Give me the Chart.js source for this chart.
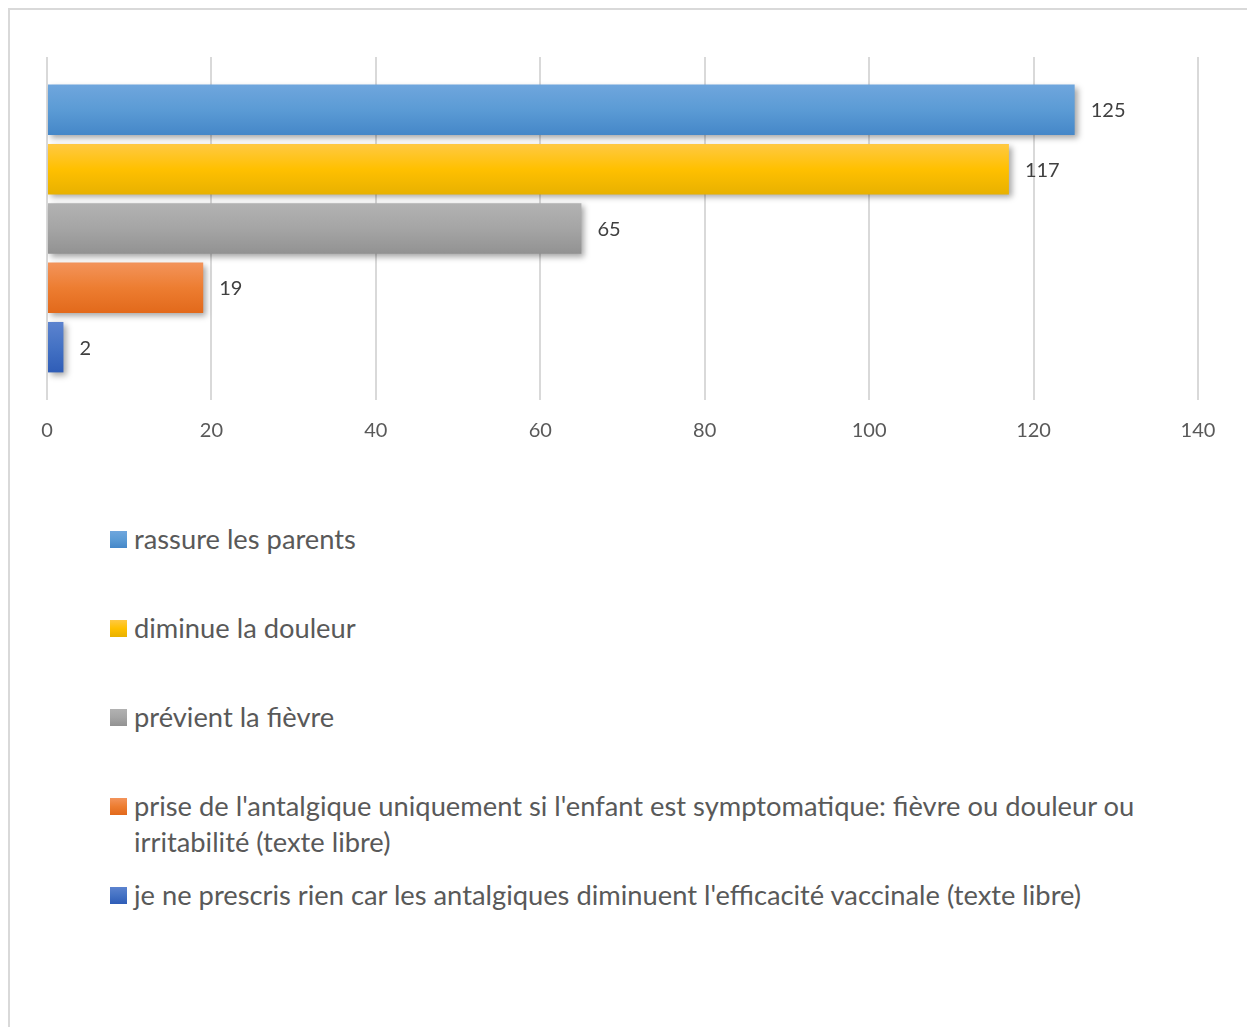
<!DOCTYPE html>
<html>
<head>
<meta charset="utf-8">
<script src="https://cdn.jsdelivr.net/npm/chart.js@4.4.0/dist/chart.umd.min.js"></script>
<style>
  body { margin: 0; background: #fff; font-family: Lato, sans-serif; }
  #frame { position: absolute; left: 8px; top: 8px; width: 1300px; height: 1100px; border: 2px solid #d9d9d9; box-sizing: border-box; }
  #chart { position: absolute; left: 0; top: 0; }
  #legend { position: absolute; left: 110px; top: 521px; width: 1060px; }
  .item { display: flex; align-items: flex-start; min-height: 89px; font-size: 27.3px; line-height: 36px; color: #595959; }
  .box { flex: 0 0 17px; height: 17px; margin-top: 10px; margin-right: 7px; }
</style>
</head>
<body>
<div id="frame"></div>
<canvas id="chart" width="1247" height="470"></canvas>
<div id="legend"></div>
<script>
const categories = ["Réponses"];
const seriesLabels = [
  "rassure les parents",
  "diminue la douleur",
  "prévient la fièvre",
  "prise de l'antalgique uniquement si l'enfant est symptomatique: fièvre ou douleur ou irritabilité (texte libre)",
  "je ne prescris rien car les antalgiques diminuent l'efficacité vaccinale (texte libre)"
];
const seriesValues = [125, 117, 65, 19, 2];
const xMax = 140;
const xStep = 20;

// top / middle / bottom shades of each bar
const colorTop = ["#6fa6dd", "#ffc943", "#b2b2b2", "#f3945b", "#5c83cf"];
const colorMid = ["#5b9bd5", "#ffc000", "#a5a5a5", "#ed7d31", "#4472c4"];
const colorBottom = ["#4587c8", "#e8b100", "#929292", "#e2691b", "#2f5db7"];

function barFill(i) {
  return (c) => {
    const el = c.chart.getDatasetMeta(c.datasetIndex).data[c.dataIndex];
    if (!el || !el.height) return colorMid[i];
    const top = el.y - el.height / 2;
    const g = c.chart.ctx.createLinearGradient(0, top, 0, top + el.height);
    g.addColorStop(0, colorTop[i]);
    g.addColorStop(0.5, colorMid[i]);
    g.addColorStop(1, colorBottom[i]);
    return g;
  };
}

const shadowAndLabels = {
  id: "shadowAndLabels",
  beforeDatasetsDraw(chart) {
    const ctx = chart.ctx;
    ctx.save();
    ctx.shadowColor = "rgba(0,0,0,0.35)";
    ctx.shadowBlur = 6;
    ctx.shadowOffsetX = 3;
    ctx.shadowOffsetY = 3;
  },
  afterDatasetsDraw(chart) {
    const ctx = chart.ctx;
    ctx.restore();
    ctx.save();
    ctx.font = "20px Lato";
    ctx.fillStyle = "#404040";
    ctx.textAlign = "left";
    ctx.textBaseline = "middle";
    chart.data.datasets.forEach((ds, i) => {
      const el = chart.getDatasetMeta(i).data[0];
      ctx.fillText(String(ds.data[0]), el.x + 16, el.y + 1);
    });
    ctx.restore();
  }
};

const chart = new Chart(document.getElementById("chart"), {
  type: "bar",
  data: {
    labels: categories,
    datasets: seriesLabels.map((label, i) => ({
      label: label,
      data: [seriesValues[i]],
      backgroundColor: barFill(i),
      borderWidth: 0,
      categoryPercentage: 0.865,
      barPercentage: 0.85
    }))
  },
  options: {
    indexAxis: "y",
    responsive: false,
    animation: false,
    layout: { padding: { top: 57, left: 47, right: 49, bottom: 8 } },
    plugins: {
      legend: { display: false },
      tooltip: { enabled: false }
    },
    scales: {
      x: {
        min: 0,
        max: xMax,
        ticks: { stepSize: xStep, padding: 19, color: "#595959", font: { family: "Lato", size: 20 } },
        grid: { color: "#d9d9d9", lineWidth: 2, drawTicks: false },
        border: { display: false }
      },
      y: { display: false }
    }
  },
  plugins: [shadowAndLabels]
});
chart.update();

const legend = document.getElementById("legend");
seriesLabels.forEach((label, i) => {
  const item = document.createElement("div");
  item.className = "item";
  const box = document.createElement("span");
  box.className = "box";
  box.style.background = `linear-gradient(${colorTop[i]}, ${colorMid[i]}, ${colorBottom[i]})`;
  const text = document.createElement("span");
  text.textContent = label;
  item.appendChild(box);
  item.appendChild(text);
  legend.appendChild(item);
});
</script>
</body>
</html>
